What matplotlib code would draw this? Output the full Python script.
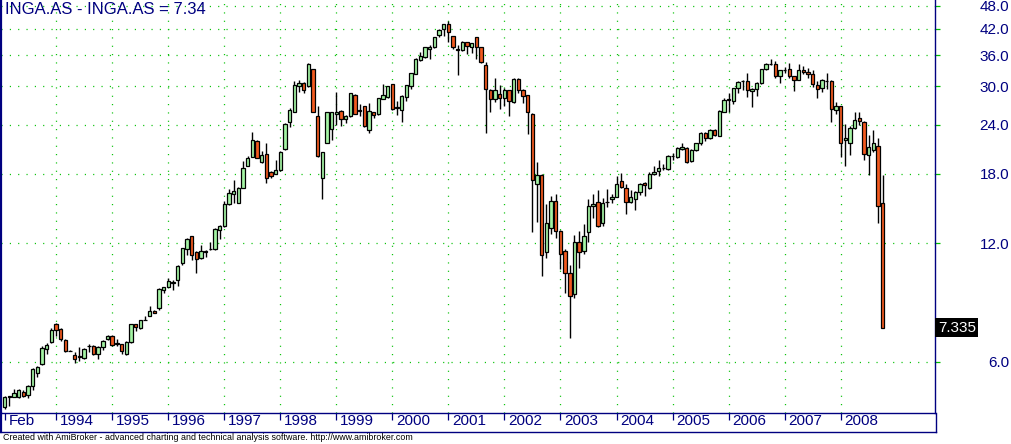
import matplotlib
matplotlib.use('Agg')
import matplotlib.pyplot as plt
import matplotlib.transforms as mtransforms
from matplotlib.lines import Line2D
from matplotlib.ticker import NullLocator
import numpy as np
import pandas as pd

plt.rcParams['font.family'] = ['Liberation Sans', 'DejaVu Sans']
plt.rcParams['lines.scale_dashes'] = False

# monthly OHLC, Feb 1993 .. Oct 2008
opens = [4.60, 4.90, 4.90, 4.90, 5.03, 4.94, 5.20, 5.64, 5.93, 6.46,
         6.75, 7.47, 7.28, 6.83, 6.41, 6.24, 6.17, 6.15, 6.58, 6.60,
         6.28, 6.53, 6.85, 7.00, 6.67, 6.66, 6.28, 6.75, 7.47, 7.30,
         7.67, 7.86, 8.10, 8.20, 9.15, 9.30, 9.54, 9.70, 10.70, 11.60,
         12.50, 11.40, 11.00, 11.40, 11.58, 11.60, 13.00, 13.30, 15.10, 16.00,
         15.20, 16.60, 18.90, 19.90, 21.80, 19.30, 20.20, 18.20, 18.00, 18.40,
         20.80, 24.40, 25.90, 30.10, 30.60, 30.00, 33.20, 25.30, 17.60, 21.60,
         23.40, 25.60, 26.00, 24.80, 25.20, 28.60, 26.00, 26.70, 23.30, 25.80,
         25.50, 27.90, 28.20, 30.40, 26.40, 26.20, 28.20, 30.10, 32.30, 35.00,
         35.60, 37.30, 37.70, 40.50, 41.90, 43.10, 40.20, 37.40, 37.10, 38.80,
         37.70, 40.00, 37.70, 33.90, 29.30, 27.80, 28.70, 28.10, 29.30, 27.40,
         31.40, 29.40, 28.50, 25.60, 17.00, 17.90, 11.40, 13.10, 15.35, 12.90,
         11.50, 10.10, 8.90, 12.10, 11.50, 12.80, 14.90, 15.30, 13.50, 15.25,
         15.50, 15.75, 17.25, 16.60, 15.30, 15.50, 16.20, 17.10, 16.60, 18.00,
         18.30, 18.60, 18.50, 19.95, 19.90, 20.80, 20.95, 19.40, 20.70, 21.50,
         22.90, 22.20, 23.30, 22.50, 25.90, 27.70, 27.60, 29.70, 30.90, 31.00,
         29.20, 29.50, 30.60, 33.20, 34.15, 34.20, 31.80, 32.95, 33.30, 31.80,
         31.20, 33.10, 32.70, 32.20, 30.20, 29.70, 31.00, 31.00, 26.20, 26.70,
         21.90, 21.60, 23.50, 25.00, 24.40, 20.10, 20.70, 21.20, 15.20]
highs = [4.92, 4.93, 5.13, 5.12, 5.08, 5.25, 5.80, 5.85, 6.60, 6.70,
         7.30, 7.55, 7.32, 6.85, 6.42, 6.35, 6.55, 6.50, 6.68, 6.62,
         6.58, 6.82, 7.02, 7.02, 6.85, 6.68, 6.78, 7.50, 7.50, 7.67,
         7.85, 8.30, 8.12, 9.22, 9.32, 9.80, 9.70, 10.55, 11.70, 12.35,
         12.55, 11.45, 11.90, 11.55, 12.10, 13.10, 13.35, 15.35, 16.50, 17.40,
         16.65, 19.40, 20.00, 23.00, 21.90, 20.60, 21.50, 18.30, 19.50, 20.60,
         24.20, 26.50, 31.00, 31.10, 30.70, 34.30, 33.30, 26.70, 20.50, 25.90,
         25.90, 29.00, 26.10, 25.40, 28.90, 28.70, 27.00, 26.80, 27.20, 25.90,
         28.10, 30.50, 30.10, 30.50, 27.50, 28.50, 30.30, 32.50, 35.40, 36.60,
         37.80, 38.20, 40.10, 42.00, 43.30, 44.00, 40.30, 38.30, 39.20, 38.90,
         38.70, 40.10, 37.80, 34.50, 29.60, 31.60, 30.30, 29.80, 29.40, 31.50,
         31.50, 29.50, 28.60, 25.70, 19.30, 18.00, 15.10, 15.80, 16.00, 13.00,
         11.60, 10.60, 12.60, 12.90, 13.40, 15.50, 16.00, 16.40, 15.60, 16.50,
         16.00, 17.80, 18.10, 17.00, 16.40, 16.30, 17.10, 17.20, 18.20, 18.90,
         19.50, 19.10, 20.10, 20.30, 21.00, 21.50, 21.00, 20.80, 21.60, 23.00,
         23.00, 23.40, 23.40, 26.10, 28.00, 28.80, 29.80, 30.90, 31.20, 32.40,
         29.80, 30.70, 33.30, 34.30, 35.30, 34.90, 33.10, 33.60, 34.30, 31.90,
         34.10, 33.80, 33.50, 33.00, 30.90, 31.30, 32.40, 31.10, 27.40, 26.80,
         24.10, 23.80, 25.80, 25.80, 24.50, 22.60, 23.20, 22.20, 17.90]
lows = [4.55, 4.65, 4.88, 4.87, 4.90, 4.87, 5.10, 5.50, 5.90, 6.28,
        6.70, 7.00, 6.80, 6.35, 6.38, 5.98, 6.05, 6.12, 6.35, 6.25,
        6.12, 6.45, 6.82, 6.60, 6.60, 6.30, 6.25, 6.70, 7.20, 7.28,
        7.65, 7.85, 7.98, 8.15, 9.00, 9.28, 9.15, 9.35, 10.60, 11.20,
        10.90, 10.10, 10.95, 11.10, 11.55, 11.55, 12.30, 13.20, 15.05, 15.20,
        15.15, 16.55, 18.80, 19.85, 19.70, 19.20, 17.10, 17.60, 17.95, 18.35,
        20.70, 23.70, 25.80, 29.00, 28.80, 29.90, 25.80, 19.90, 15.50, 21.50,
        22.00, 24.00, 23.80, 24.20, 25.10, 25.50, 25.30, 23.70, 22.80, 25.00,
        25.40, 27.80, 28.10, 26.20, 25.40, 24.30, 27.50, 29.60, 32.20, 34.80,
        35.50, 35.30, 37.60, 40.00, 40.30, 38.90, 37.30, 32.10, 36.80, 36.20,
        36.40, 35.20, 34.30, 22.80, 25.80, 27.40, 26.30, 26.70, 25.30, 27.30,
        28.90, 27.30, 22.70, 12.80, 13.60, 9.90, 11.00, 12.70, 12.40, 10.30,
        8.95, 6.90, 8.70, 10.40, 11.30, 12.10, 13.95, 13.20, 13.30, 14.80,
        15.20, 15.70, 16.60, 14.20, 15.20, 14.60, 15.90, 15.80, 16.50, 17.90,
        17.80, 18.40, 18.40, 19.50, 19.80, 20.70, 19.20, 19.30, 20.60, 21.30,
        21.80, 22.10, 22.40, 22.40, 25.80, 25.90, 27.00, 28.90, 29.30, 28.20,
        26.60, 28.40, 30.50, 33.10, 33.90, 31.60, 30.60, 32.40, 31.50, 29.20,
        31.10, 32.20, 31.60, 29.90, 28.00, 29.00, 29.60, 24.30, 25.60, 19.90,
        18.90, 20.10, 23.40, 24.00, 19.50, 17.90, 20.50, 13.50, 7.30]
closes = [4.88, 4.91, 5.00, 5.10, 4.93, 5.22, 5.75, 5.82, 6.50, 6.63,
          7.25, 7.22, 6.85, 6.40, 6.40, 6.12, 6.20, 6.47, 6.60, 6.28,
          6.55, 6.80, 7.00, 6.63, 6.69, 6.38, 6.76, 7.47, 7.36, 7.65,
          7.68, 8.06, 8.00, 9.20, 9.30, 9.60, 9.56, 10.50, 11.65, 12.30,
          11.20, 10.95, 11.45, 11.50, 11.62, 13.05, 13.30, 15.10, 16.10, 16.30,
          16.60, 18.60, 19.80, 22.00, 19.80, 20.10, 17.60, 17.80, 18.40, 20.50,
          24.10, 26.10, 30.20, 30.60, 29.40, 34.20, 25.90, 20.00, 20.40, 25.80,
          25.80, 25.80, 24.80, 25.30, 28.80, 25.60, 26.10, 23.80, 26.00, 25.40,
          28.00, 28.50, 30.00, 26.30, 26.60, 28.40, 30.20, 32.40, 35.30, 35.90,
          37.70, 37.70, 40.00, 41.60, 43.10, 41.20, 37.70, 37.10, 38.80, 38.10,
          38.60, 37.70, 34.70, 29.60, 27.80, 29.30, 28.10, 29.30, 27.60, 31.40,
          29.40, 28.30, 25.80, 17.40, 17.90, 11.20, 13.50, 15.35, 12.90, 11.30,
          10.10, 8.80, 12.10, 11.40, 12.50, 14.90, 15.10, 13.30, 15.20, 15.30,
          15.75, 17.00, 16.70, 15.30, 15.70, 16.20, 17.00, 16.90, 18.00, 18.20,
          18.60, 18.65, 20.00, 20.00, 20.90, 21.00, 19.30, 20.70, 21.50, 22.90,
          22.20, 23.30, 22.60, 26.00, 27.70, 27.80, 29.70, 30.80, 31.00, 29.40,
          29.60, 30.60, 33.20, 34.20, 34.25, 31.80, 33.00, 33.05, 31.80, 31.20,
          33.10, 32.70, 32.20, 30.50, 29.60, 31.20, 31.05, 26.30, 26.70, 21.60,
          22.20, 23.60, 24.60, 24.50, 20.20, 21.10, 21.50, 14.90, 7.335]

ticker = 'INGA.AS'
last_close = 7.335
title_close = '7.34'
y_ticks = [6, 12, 18, 24, 30, 36, 42, 48]

months = pd.date_range('1993-02-01', periods=len(closes), freq='MS')
idx = np.arange(len(closes))

W, H = 1012, 444
fig = plt.figure(figsize=(W / 100, H / 100), dpi=100)
fig.patch.set_facecolor('white')
ax = fig.add_axes([1.5 / W, 1 - 413 / H, 933.5 / W, 413 / H])

navy = '#000080'
grid_green = '#00c000'
up_col = '#a4f4a4'
down_col = '#f25a1f'

o = np.array(opens); c = np.array(closes)
hi = np.array(highs); lo = np.array(lows)
up = c >= o

# wicks
ax.vlines(idx, lo, hi, color='black', lw=1.0, zorder=3)
# bodies
bottoms = np.minimum(o, c)
heights = np.maximum(np.abs(c - o), 0.0001)
ax.bar(idx, heights, bottom=bottoms, width=0.72,
       color=np.where(up, up_col, down_col), edgecolor='black',
       linewidth=0.9, zorder=4)

ax.set_yscale('log')
ax.set_ylim(4.453, 49.7)
ax.set_xlim(-0.7, 199.2)

# y axis on right
ax.yaxis.set_minor_locator(NullLocator())
ax.set_yticks(y_ticks)
ax.set_yticklabels([f'{v:.1f}' for v in y_ticks])
ax.tick_params(axis='y', which='major', left=False, right=True,
               labelleft=False, labelright=True, direction='out',
               length=3.6, width=0.9, color=grid_green, labelcolor=navy,
               labelsize=11, pad=49.7)
for lbl in ax.get_yticklabels():
    lbl.set_horizontalalignment('right')
ax.yaxis.grid(True, color=grid_green, linestyle=(0, (0.8, 5.2)), lw=0.9)

# x axis: Feb + each January
xpos = [0] + [i for i, m in enumerate(months) if m.month == 1]
xlab = ['Feb'] + [str(months[i].year) for i in xpos[1:]]
ax.set_xticks(xpos)
ax.set_xticklabels([])
ax.tick_params(axis='x', direction='out', length=5, width=0.9, color=navy)
for p in xpos[1:]:
    ax.axvline(p, color=grid_green, linestyle=(0, (0.8, 5.2)), lw=0.9, zorder=1)
for p, t in zip(xpos, xlab):
    ax.annotate(t, xy=(p, 0), xycoords=('data', 'axes fraction'),
                xytext=(4, -1), textcoords='offset pixels',
                ha='left', va='top', fontsize=11, color=navy)

for s in ['left', 'right', 'bottom']:
    ax.spines[s].set_color(navy)
ax.spines['left'].set_linewidth(1.6)
ax.spines['right'].set_linewidth(1.0)
ax.spines['bottom'].set_linewidth(1.0)
ax.spines['top'].set_visible(False)

# box around the date strip
fx = lambda x: x / W
fy = lambda y: 1 - y / H
fig.add_artist(Line2D([fx(0), fx(935.5)], [fy(432), fy(432)], color=navy, lw=1.0))
fig.add_artist(Line2D([fx(935.5), fx(935.5)], [fy(413), fy(432)], color=navy, lw=1.0))
fig.add_artist(Line2D([fx(1), fx(1)], [fy(413), fy(432)], color=navy, lw=1.6))

# title
ax.text(3 / 933, 0.995, f'{ticker} - {ticker} = {title_close}', transform=ax.transAxes,
        ha='left', va='top', fontsize=12, color=navy)

# last price label
trans = mtransforms.blended_transform_factory(ax.transAxes, ax.transData)
ax.text(1.003, last_close, f'{last_close:.3f}', transform=trans, ha='left',
        va='center', fontsize=11, color='white', clip_on=False,
        bbox=dict(facecolor='black', edgecolor='none', pad=1.8))

fig.text(3 / W, fy(437.5), 'Created with AmiBroker - advanced charting and technical '
         'analysis software. http://www.amibroker.com', ha='left', va='center',
         fontsize=6.4, color='black')

fig.savefig('out.png', dpi=100)
